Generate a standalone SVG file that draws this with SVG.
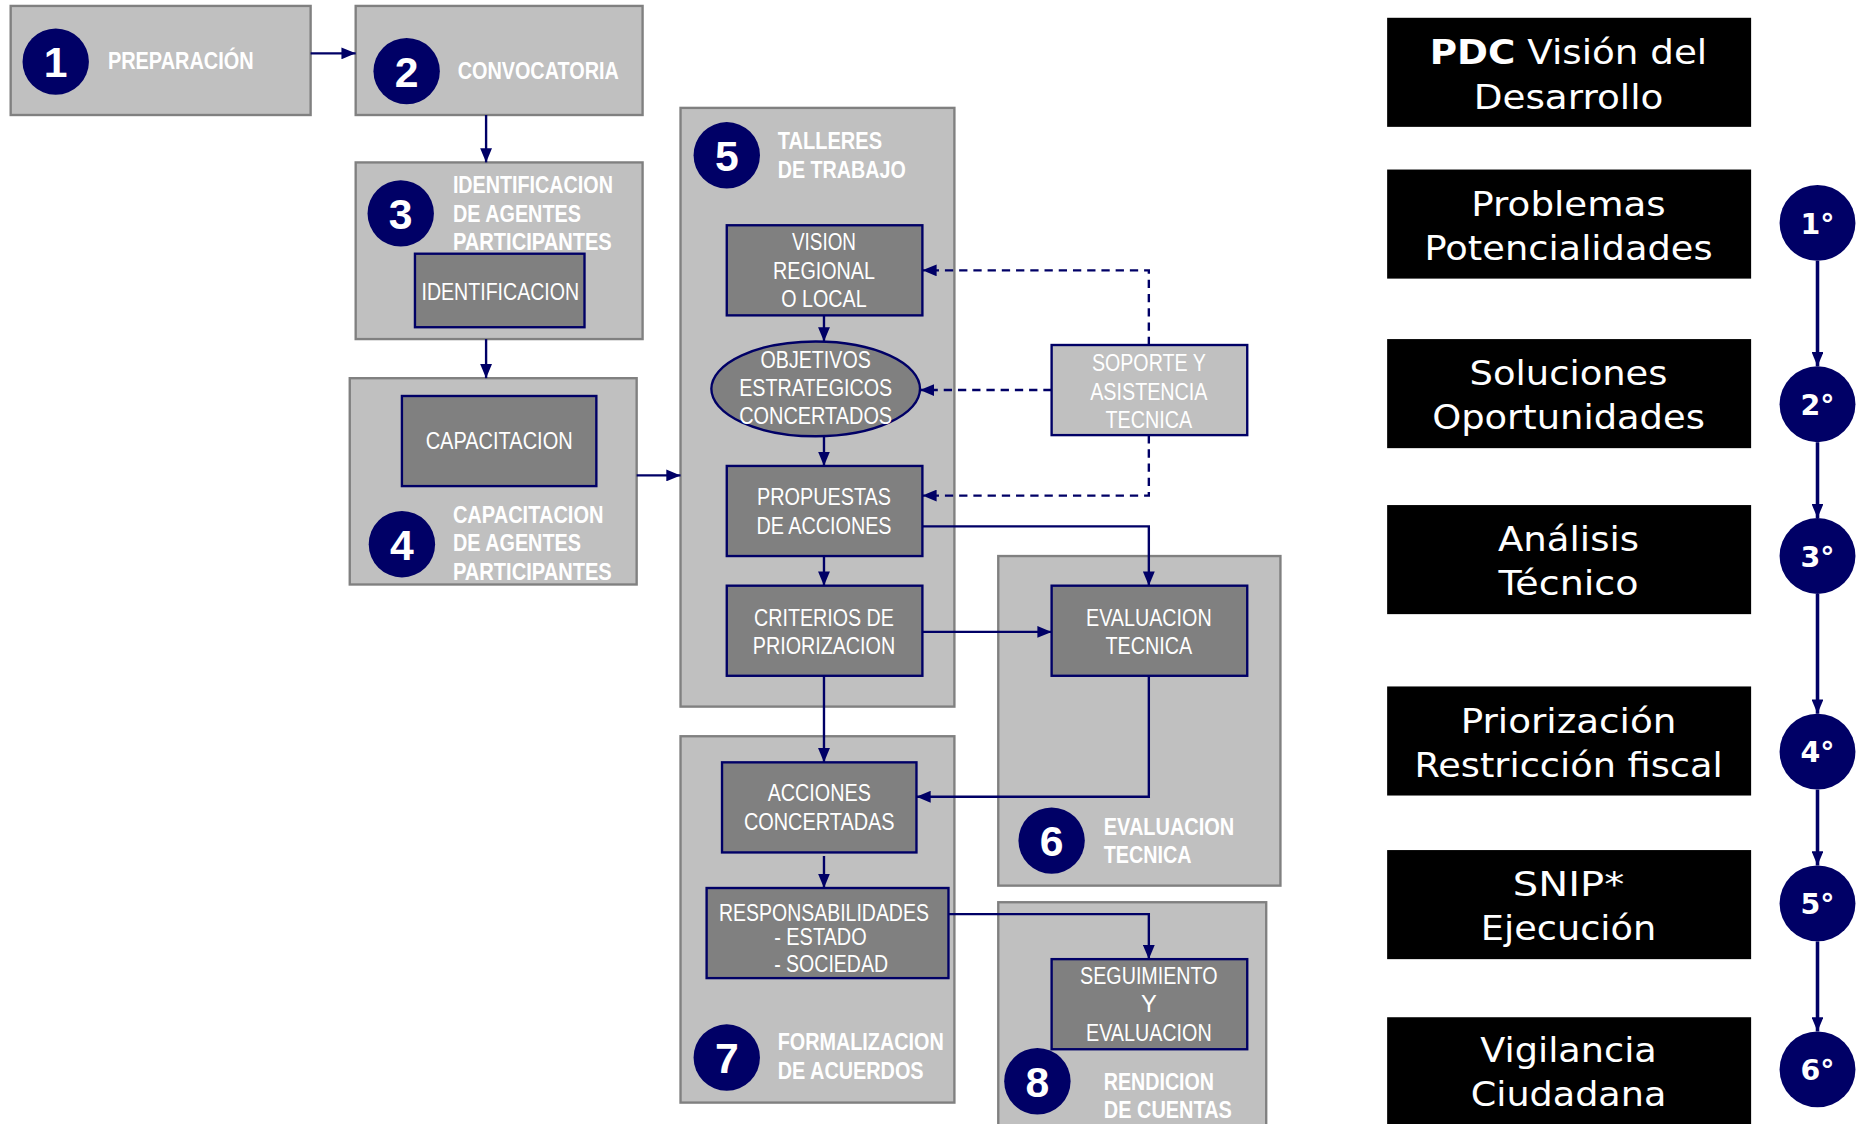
<svg xmlns="http://www.w3.org/2000/svg" width="1859" height="1124" viewBox="0 0 1859 1124">
<style>
.box{fill:#c0c0c0;stroke:#808080;stroke-width:2}
.in{fill:#808080;stroke:#000066;stroke-width:2}
.sup{fill:#c0c0c0;stroke:#000066;stroke-width:2}
.circ{fill:#000066}
.blk{fill:#000}
.lbl{font-family:"Liberation Sans Narrow","Liberation Sans",sans-serif;font-size:20px;fill:#fff;font-weight:bold}
.it{font-family:"Liberation Sans Narrow","Liberation Sans",sans-serif;font-size:20px;fill:#fff;text-anchor:middle}
.num{font-family:"Liberation Sans",Arial,sans-serif;font-weight:bold;font-size:36px;fill:#fff;text-anchor:middle}
.big{font-family:"DejaVu Sans",Verdana,sans-serif;font-size:29px;fill:#fff;text-anchor:middle}
.deg{font-family:"DejaVu Sans",Verdana,sans-serif;font-size:24px;font-weight:bold;fill:#fff;text-anchor:middle}
.ln{fill:none;stroke:#000066;stroke-width:2}
.dash{fill:none;stroke:#000066;stroke-width:2;stroke-dasharray:7,5}
.vln{fill:none;stroke:#000066;stroke-width:3}
</style>
<defs>
<marker id="ah" viewBox="0 0 12 10" refX="12" refY="5" markerWidth="12" markerHeight="10" markerUnits="userSpaceOnUse" orient="auto"><path d="M0,0 L12,5 L0,10 z" fill="#000066"/></marker>
</defs>
<rect width="1859" height="1124" fill="#fff"/>
<g transform="scale(1.18559)">
<g id="n1">
<rect class="box" x="9" y="5" width="253" height="92"/>
<circle class="circ" cx="47" cy="52" r="28"/>
<text class="num" x="47" y="65">1</text>
<text class="lbl" x="91" y="58" textLength="123" lengthAdjust="spacingAndGlyphs">PREPARACIÓN</text>
</g>
<g id="n2">
<rect class="box" x="300" y="5" width="242" height="92"/>
<circle class="circ" cx="343" cy="60" r="28"/>
<text class="num" x="343" y="73">2</text>
<text class="lbl" x="386" y="67" textLength="136" lengthAdjust="spacingAndGlyphs">CONVOCATORIA</text>
</g>
<g id="n3">
<rect class="box" x="300" y="137" width="242" height="149"/>
<circle class="circ" cx="338" cy="180" r="28"/>
<text class="num" x="338" y="193">3</text>
<text class="lbl" x="382" y="163" textLength="135" lengthAdjust="spacingAndGlyphs">IDENTIFICACION</text>
<text class="lbl" x="382" y="187" textLength="108" lengthAdjust="spacingAndGlyphs">DE AGENTES</text>
<text class="lbl" x="382" y="211" textLength="134" lengthAdjust="spacingAndGlyphs">PARTICIPANTES</text>
<rect class="in" x="350" y="214" width="143" height="62"/>
<text class="it" x="422" y="253" textLength="133" lengthAdjust="spacingAndGlyphs">IDENTIFICACION</text>
</g>
<g id="n4">
<rect class="box" x="295" y="319" width="242" height="174"/>
<rect class="in" x="339" y="334" width="164" height="76"/>
<text class="it" x="421" y="379" textLength="124" lengthAdjust="spacingAndGlyphs">CAPACITACION</text>
<circle class="circ" cx="339" cy="459" r="28"/>
<text class="num" x="339" y="472">4</text>
<text class="lbl" x="382" y="441" textLength="127" lengthAdjust="spacingAndGlyphs">CAPACITACION</text>
<text class="lbl" x="382" y="465" textLength="108" lengthAdjust="spacingAndGlyphs">DE AGENTES</text>
<text class="lbl" x="382" y="489" textLength="134" lengthAdjust="spacingAndGlyphs">PARTICIPANTES</text>
</g>
<g id="n5">
<rect class="box" x="574" y="91" width="231" height="505"/>
<circle class="circ" cx="613" cy="131" r="28"/>
<text class="num" x="613" y="144">5</text>
<text class="lbl" x="656" y="126" textLength="88" lengthAdjust="spacingAndGlyphs">TALLERES</text>
<text class="lbl" x="656" y="150" textLength="108" lengthAdjust="spacingAndGlyphs">DE TRABAJO</text>
</g>
<g id="n6">
<rect class="box" x="842" y="469" width="238" height="278"/>
<circle class="circ" cx="887" cy="709" r="28"/>
<text class="num" x="887" y="722">6</text>
<text class="lbl" x="931" y="704" textLength="110" lengthAdjust="spacingAndGlyphs">EVALUACION</text>
<text class="lbl" x="931" y="728" textLength="74" lengthAdjust="spacingAndGlyphs">TECNICA</text>
</g>
<g id="n7">
<rect class="box" x="574" y="621" width="231" height="309"/>
<circle class="circ" cx="613" cy="892" r="28"/>
<text class="num" x="613" y="905">7</text>
<text class="lbl" x="656" y="886" textLength="140" lengthAdjust="spacingAndGlyphs">FORMALIZACION</text>
<text class="lbl" x="656" y="910" textLength="123" lengthAdjust="spacingAndGlyphs">DE ACUERDOS</text>
</g>
<g id="n8">
<rect class="box" x="842" y="761" width="226" height="200"/>
<circle class="circ" cx="875" cy="912" r="28"/>
<text class="num" x="875" y="925">8</text>
<text class="lbl" x="931" y="919" textLength="93" lengthAdjust="spacingAndGlyphs">RENDICION</text>
<text class="lbl" x="931" y="943" textLength="108" lengthAdjust="spacingAndGlyphs">DE CUENTAS</text>
</g>
<g id="vision">
<rect class="in" x="613" y="190" width="165" height="76"/>
<text class="it" x="695" y="211" textLength="54" lengthAdjust="spacingAndGlyphs">VISION</text>
<text class="it" x="695" y="235" textLength="86" lengthAdjust="spacingAndGlyphs">REGIONAL</text>
<text class="it" x="695" y="259" textLength="72" lengthAdjust="spacingAndGlyphs">O LOCAL</text>
</g>
<g id="objetivos">
<ellipse class="in" cx="688" cy="328" rx="88" ry="40"/>
<text class="it" x="688" y="310" textLength="93" lengthAdjust="spacingAndGlyphs">OBJETIVOS</text>
<text class="it" x="688" y="334" textLength="129" lengthAdjust="spacingAndGlyphs">ESTRATEGICOS</text>
<text class="it" x="688" y="358" textLength="129" lengthAdjust="spacingAndGlyphs">CONCERTADOS</text>
</g>
<g id="propuestas">
<rect class="in" x="613" y="393" width="165" height="76"/>
<text class="it" x="695" y="426" textLength="113" lengthAdjust="spacingAndGlyphs">PROPUESTAS</text>
<text class="it" x="695" y="450" textLength="114" lengthAdjust="spacingAndGlyphs">DE ACCIONES</text>
</g>
<g id="criterios">
<rect class="in" x="613" y="494" width="165" height="76"/>
<text class="it" x="695" y="528" textLength="118" lengthAdjust="spacingAndGlyphs">CRITERIOS DE</text>
<text class="it" x="695" y="552" textLength="120" lengthAdjust="spacingAndGlyphs">PRIORIZACION</text>
</g>
<g id="soporte">
<rect class="sup" x="887" y="291" width="165" height="76"/>
<text class="it" x="969" y="313" textLength="96" lengthAdjust="spacingAndGlyphs">SOPORTE Y</text>
<text class="it" x="969" y="337" textLength="99" lengthAdjust="spacingAndGlyphs">ASISTENCIA</text>
<text class="it" x="969" y="361" textLength="73" lengthAdjust="spacingAndGlyphs">TECNICA</text>
</g>
<g id="evaluacion">
<rect class="in" x="887" y="494" width="165" height="76"/>
<text class="it" x="969" y="528" textLength="106" lengthAdjust="spacingAndGlyphs">EVALUACION</text>
<text class="it" x="969" y="552" textLength="73" lengthAdjust="spacingAndGlyphs">TECNICA</text>
</g>
<g id="acciones">
<rect class="in" x="609" y="643" width="164" height="76"/>
<text class="it" x="691" y="676" textLength="87" lengthAdjust="spacingAndGlyphs">ACCIONES</text>
<text class="it" x="691" y="700" textLength="127" lengthAdjust="spacingAndGlyphs">CONCERTADAS</text>
</g>
<g id="responsabilidades">
<rect class="in" x="596" y="749" width="204" height="76"/>
<text class="it" x="695" y="777" textLength="177" lengthAdjust="spacingAndGlyphs">RESPONSABILIDADES</text>
<text class="it" x="653" y="797" style="text-anchor:start" textLength="78" lengthAdjust="spacingAndGlyphs">- ESTADO</text>
<text class="it" x="653" y="820" style="text-anchor:start" textLength="96" lengthAdjust="spacingAndGlyphs">- SOCIEDAD</text>
</g>
<g id="seguimiento">
<rect class="in" x="887" y="809" width="165" height="76"/>
<text class="it" x="969" y="830" textLength="116" lengthAdjust="spacingAndGlyphs">SEGUIMIENTO</text>
<text class="it" x="969" y="854">Y</text>
<text class="it" x="969" y="878" textLength="106" lengthAdjust="spacingAndGlyphs">EVALUACION</text>
</g>
<g id="r-pdc">
<rect class="blk" x="1170" y="15" width="307" height="92"/>
<text class="big" x="1323" y="54" textLength="234" lengthAdjust="spacingAndGlyphs"><tspan font-weight="bold">PDC</tspan> Visión del</text>
<text class="big" x="1323" y="92" textLength="160" lengthAdjust="spacingAndGlyphs">Desarrollo</text>
</g>
<g id="r-1">
<rect class="blk" x="1170" y="143" width="307" height="92"/>
<text class="big" x="1323" y="182" textLength="164" lengthAdjust="spacingAndGlyphs">Problemas</text>
<text class="big" x="1323" y="219" textLength="243" lengthAdjust="spacingAndGlyphs">Potencialidades</text>
</g>
<g id="r-2">
<rect class="blk" x="1170" y="286" width="307" height="92"/>
<text class="big" x="1323" y="325" textLength="167" lengthAdjust="spacingAndGlyphs">Soluciones</text>
<text class="big" x="1323" y="362" textLength="230" lengthAdjust="spacingAndGlyphs">Oportunidades</text>
</g>
<g id="r-3">
<rect class="blk" x="1170" y="426" width="307" height="92"/>
<text class="big" x="1323" y="465" textLength="119" lengthAdjust="spacingAndGlyphs">Análisis</text>
<text class="big" x="1323" y="502" textLength="118" lengthAdjust="spacingAndGlyphs">Técnico</text>
</g>
<g id="r-4">
<rect class="blk" x="1170" y="579" width="307" height="92"/>
<text class="big" x="1323" y="618" textLength="182" lengthAdjust="spacingAndGlyphs">Priorización</text>
<text class="big" x="1323" y="655" textLength="260" lengthAdjust="spacingAndGlyphs">Restricción fiscal</text>
</g>
<g id="r-5">
<rect class="blk" x="1170" y="717" width="307" height="92"/>
<text class="big" x="1323" y="756" textLength="94" lengthAdjust="spacingAndGlyphs">SNIP*</text>
<text class="big" x="1323" y="793" textLength="148" lengthAdjust="spacingAndGlyphs">Ejecución</text>
</g>
<g id="r-6">
<rect class="blk" x="1170" y="858" width="307" height="92"/>
<text class="big" x="1323" y="896" textLength="149" lengthAdjust="spacingAndGlyphs">Vigilancia</text>
<text class="big" x="1323" y="933" textLength="165" lengthAdjust="spacingAndGlyphs">Ciudadana</text>
</g>
<g id="c1"><circle class="circ" cx="1533" cy="188" r="32"/><text class="deg" x="1533" y="197">1°</text></g>
<g id="c2"><circle class="circ" cx="1533" cy="341" r="32"/><text class="deg" x="1533" y="350">2°</text></g>
<g id="c3"><circle class="circ" cx="1533" cy="469" r="32"/><text class="deg" x="1533" y="478">3°</text></g>
<g id="c4"><circle class="circ" cx="1533" cy="634" r="32"/><text class="deg" x="1533" y="643">4°</text></g>
<g id="c5"><circle class="circ" cx="1533" cy="762" r="32"/><text class="deg" x="1533" y="771">5°</text></g>
<g id="c6"><circle class="circ" cx="1533" cy="902" r="32"/><text class="deg" x="1533" y="911">6°</text></g>
<g id="connectors">
<path class="ln" d="M262,45 H300" marker-end="url(#ah)"/>
<path class="ln" d="M410,97 V137" marker-end="url(#ah)"/>
<path class="ln" d="M410,286 V319" marker-end="url(#ah)"/>
<path class="ln" d="M537,401 H574" marker-end="url(#ah)"/>
<path class="ln" d="M695,266 V288" marker-end="url(#ah)"/>
<path class="ln" d="M695,368 V393" marker-end="url(#ah)"/>
<path class="ln" d="M695,469 V494" marker-end="url(#ah)"/>
<path class="ln" d="M695,570 V643" marker-end="url(#ah)"/>
<path class="dash" d="M969,291 V228 H778" marker-end="url(#ah)"/>
<path class="dash" d="M887,329 H776" marker-end="url(#ah)"/>
<path class="dash" d="M969,367 V418 H778" marker-end="url(#ah)"/>
<path class="ln" d="M778,444 H969 V494" marker-end="url(#ah)"/>
<path class="ln" d="M778,533 H887" marker-end="url(#ah)"/>
<path class="ln" d="M969,570 V672 H773" marker-end="url(#ah)"/>
<path class="ln" d="M695,722 V749" marker-end="url(#ah)"/>
<path class="ln" d="M800,771 H969 V809" marker-end="url(#ah)"/>
<path class="vln" d="M1533,220 V309" marker-end="url(#ah)"/>
<path class="vln" d="M1533,373 V437" marker-end="url(#ah)"/>
<path class="vln" d="M1533,501 V602" marker-end="url(#ah)"/>
<path class="vln" d="M1533,666 V730" marker-end="url(#ah)"/>
<path class="vln" d="M1533,794 V870" marker-end="url(#ah)"/>
</g>
</g>
</svg>
